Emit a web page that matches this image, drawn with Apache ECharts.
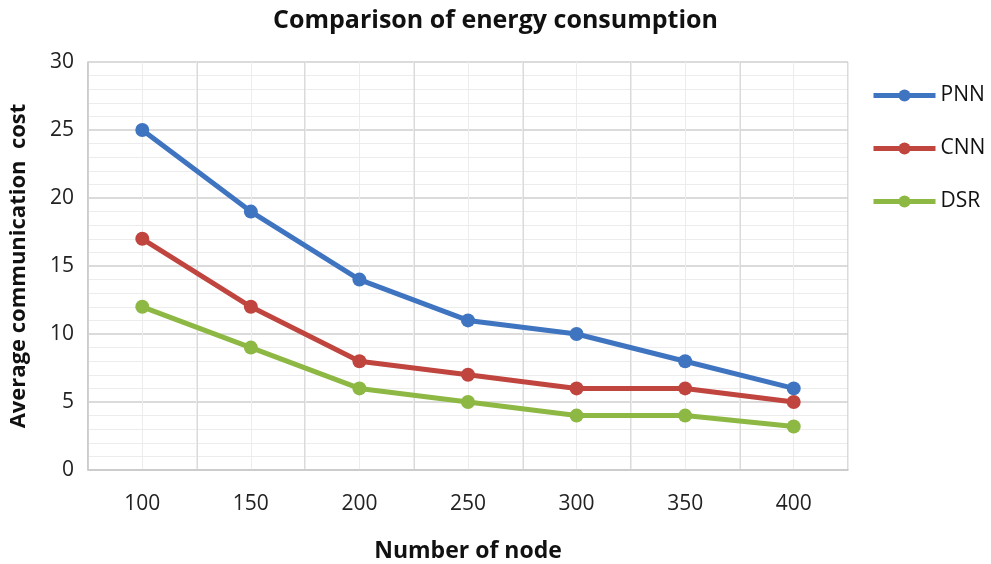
<!DOCTYPE html>
<html><head><meta charset="utf-8">
<script src="https://cdn.jsdelivr.net/npm/echarts@6/dist/echarts.min.js"></script>
<style>html,body{margin:0;padding:0;background:#fff}#c{width:991px;height:564px}</style>
</head><body><div id="c"></div>
<script>
const categories = ['100','150','200','250','300','350','400'];
const pnn = [25, 19, 14, 11, 10, 8, 6];
const cnn = [17, 12, 8, 7, 6, 6, 5];
const dsr = [12, 9, 6, 5, 4, 4, 3.2];
const seriesNames = ['PNN','CNN','DSR'];
const colors = ['#3F74C0','#C0453F','#8DB843'];

const font = '"Open Sans", sans-serif';
const chart = echarts.init(document.getElementById('c'));
const mk = (name, data, color) => ({
  name, type:'line', data, xAxisIndex:0, yAxisIndex:0,
  symbol:'circle', symbolSize:14,
  lineStyle:{width:5, color}, itemStyle:{color},
  z:5
});
chart.setOption({
  animation:false,
  title:{text:'Comparison of energy consumption', left:'center', top:3,
    textStyle:{fontFamily:font, fontWeight:'bold', fontSize:25, color:'#111'}},
  legend:{orient:'vertical', left:866, top:80, itemGap:32, itemWidth:62, itemHeight:15,
    lineStyle:{width:5}, itemStyle:{borderWidth:0},
    textStyle:{fontFamily:font, fontSize:21, color:'#111'}, data:seriesNames},
  grid:{left:88, right:143, top:62, bottom:94, containLabel:false, outerBoundsMode:'none'},
  xAxis:[{
    type:'category', data:categories, boundaryGap:true,
    name:'Number of node', nameLocation:'middle', nameGap:70,
    nameTextStyle:{fontFamily:font, fontWeight:'bold', fontSize:23, color:'#111'},
    axisLine:{show:true, lineStyle:{color:'#c8c8c8', width:1.5}},
    axisTick:{show:false},
    axisLabel:{margin:24, fontFamily:font, fontSize:21, color:'#222'},
    splitLine:{show:true, lineStyle:{color:'#cfcfcf', width:1.5}}
  },{
    type:'value', min:0, max:14, interval:1, show:true,
    axisLine:{show:false}, axisTick:{show:false}, axisLabel:{show:false},
    splitLine:{show:true, lineStyle:{color:'#ececec', width:1}}
  }],
  yAxis:{
    type:'value', min:0, max:30, interval:5,
    name:'Average communication  cost', nameLocation:'middle', nameGap:58,
    nameTextStyle:{fontFamily:font, fontWeight:'bold', fontSize:22, color:'#111'},
    axisLine:{show:true, lineStyle:{color:'#c8c8c8', width:1.5}},
    axisTick:{show:false},
    axisLabel:{margin:14, fontFamily:font, fontSize:21, color:'#222'},
    splitLine:{show:true, lineStyle:{color:'#cfcfcf', width:1.5}},
    minorTick:{show:false, splitNumber:5},
    minorSplitLine:{show:true, lineStyle:{color:'#ececec', width:1}}
  },
  series:[mk(seriesNames[0], pnn, colors[0]), mk(seriesNames[1], cnn, colors[1]), mk(seriesNames[2], dsr, colors[2])]
});
</script></body></html>
